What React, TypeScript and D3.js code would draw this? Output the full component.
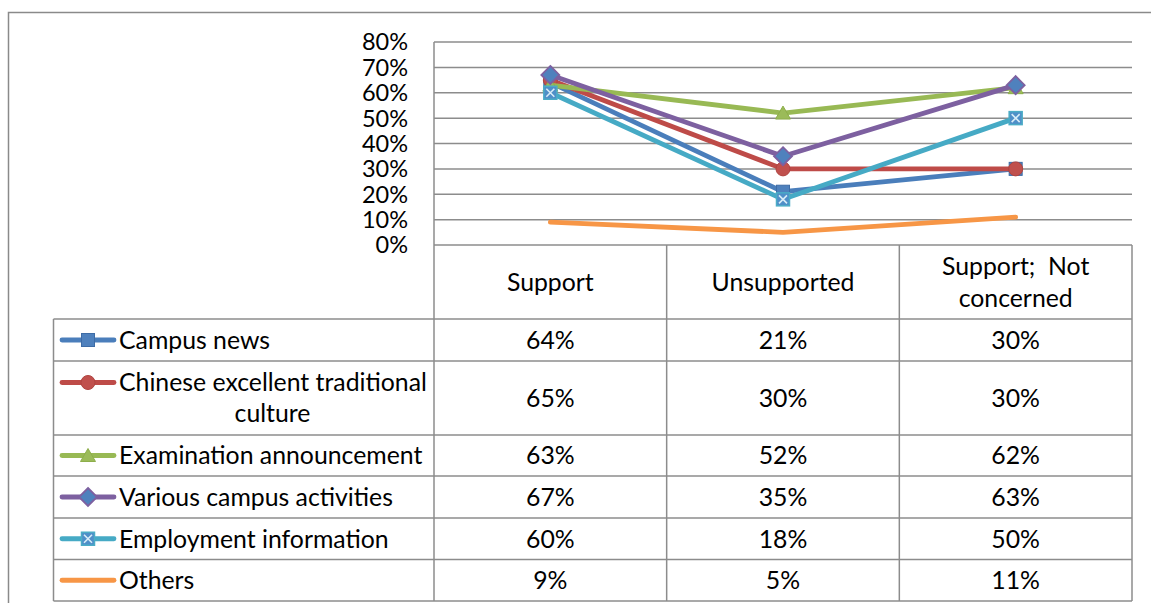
import React from "react";
import * as d3 from "d3";

const categories = ["Support", "Unsupported", "Support;  Not concerned"];
const categoryLines = [["Support"], ["Unsupported"], ["Support;\u00a0\u00a0Not", "concerned"]];
const seriesNames = [
  "Campus news",
  "Chinese excellent traditional culture",
  "Examination announcement",
  "Various campus activities",
  "Employment information",
  "Others",
];
const legendLines = [
  ["Campus news"],
  ["Chinese excellent traditional", "culture"],
  ["Examination announcement"],
  ["Various campus activities"],
  ["Employment information"],
  ["Others"],
];
const campusNews = [0.64, 0.21, 0.3];
const chineseCulture = [0.65, 0.3, 0.3];
const examAnnouncement = [0.63, 0.52, 0.62];
const campusActivities = [0.67, 0.35, 0.63];
const employmentInfo = [0.6, 0.18, 0.5];
const others = [0.09, 0.05, 0.11];
const seriesValues = [campusNews, chineseCulture, examAnnouncement, campusActivities, employmentInfo, others];
const yTicks = [0, 0.1, 0.2, 0.3, 0.4, 0.5, 0.6, 0.7, 0.8];

const lineColors = ["#4A7EBB", "#BE4B48", "#98B954", "#7D60A0", "#46AAC5", "#F79646"];
const markerTypes = ["square", "circle", "triangle", "diamond", "xsquare", "none"];

const FONT = "Lato, 'Open Sans', sans-serif";
const GRID = "#8c8c8c";

function Marker({ type, x, y }: { type: string; x: number; y: number }) {
  if (type === "square")
    return <rect x={x - 6.5} y={y - 6.5} width={13} height={13} fill="#4F81BD" stroke="#3E6CA6" strokeWidth={1} />;
  if (type === "circle") return <circle cx={x} cy={y} r={7} fill="#C0504D" stroke="#B04440" strokeWidth={1} />;
  if (type === "triangle")
    return (
      <path
        d={`M${x},${y - 7}L${x + 7.5},${y + 6}L${x - 7.5},${y + 6}Z`}
        fill="#9BBB59"
        stroke="#8DAE4A"
        strokeWidth={1}
      />
    );
  if (type === "diamond")
    return (
      <path
        d={`M${x},${y - 9}L${x + 9},${y}L${x},${y + 9}L${x - 9},${y}Z`}
        fill="#4F81BD"
        stroke="#7D60A0"
        strokeWidth={1.8}
      />
    );
  if (type === "xsquare")
    return (
      <g>
        <rect x={x - 6.5} y={y - 6.5} width={13} height={13} fill="#4F8FC8" stroke="#4BACC6" strokeWidth={1.5} />
        <path
          d={`M${x - 4},${y - 4}L${x + 4},${y + 4}M${x + 4},${y - 4}L${x - 4},${y + 4}`}
          stroke="#D8ECF7"
          strokeWidth={1.6}
        />
      </g>
    );
  return null;
}

export default function App() {
  const W = 1151;
  const H = 603;
  const plotLeft = 434;
  const plotRight = 1132;
  const plotTop = 42;
  const plotBottom = 245;
  const headerBottom = 319;
  const legendLeft = 53.5;
  const rowEdges = [319, 361, 435, 476, 518, 559.5, 601];

  const x = d3.scaleBand<string>().domain(categories).range([plotLeft, plotRight]).paddingInner(0).paddingOuter(0);
  const y = d3.scaleLinear().domain([0, 0.8]).range([plotBottom, plotTop]);
  const line = d3
    .line<number>()
    .x((_, i) => (x(categories[i]) as number) + x.bandwidth() / 2)
    .y((d) => y(d));

  const colEdges = categories.map((c) => x(c) as number).concat([plotRight]);
  const fs = 24.8;
  const tickFs = 23.5;
  const lw = 4.8;

  return (
    <svg
      width={W}
      height={H}
      style={{ position: "absolute", left: 0, top: 0, display: "block", background: "#fff" }}
      fontFamily={FONT}
    >
      {/* outer frame */}
      <path d={`M8.5,${H + 5}V12.5H${W + 5}`} fill="none" stroke="#8a8a8a" strokeWidth={1.5} />

      {/* gridlines */}
      {yTicks.map((t) => (
        <line key={t} x1={plotLeft} x2={plotRight} y1={y(t)} y2={y(t)} stroke={GRID} strokeWidth={1.5} />
      ))}
      {yTicks.map((t) => (
        <text key={"l" + t} x={408} y={y(t)} dy="0.36em" textAnchor="end" fontSize={tickFs} fill="#000">
          {d3.format(".0%")(t)}
        </text>
      ))}

      {/* table lines */}
      <line x1={plotLeft} x2={plotLeft} y1={plotTop} y2={rowEdges[rowEdges.length - 1]} stroke={GRID} strokeWidth={1.5} />
      {colEdges.slice(1).map((cx, i) => (
        <line key={"c" + i} x1={cx} x2={cx} y1={plotBottom} y2={rowEdges[rowEdges.length - 1]} stroke={GRID} strokeWidth={1.5} />
      ))}
      <line x1={legendLeft} x2={legendLeft} y1={headerBottom} y2={rowEdges[rowEdges.length - 1]} stroke={GRID} strokeWidth={1.5} />
      {rowEdges.map((ry, i) => (
        <line key={"r" + i} x1={legendLeft} x2={plotRight} y1={ry} y2={ry} stroke={GRID} strokeWidth={1.5} />
      ))}

      {/* header text */}
      {categoryLines.map((ls, ci) => {
        const cx = (x(categories[ci]) as number) + x.bandwidth() / 2;
        const cy = (plotBottom + headerBottom) / 2;
        const lh = 32;
        return ls.map((s, li) => (
          <text
            key={ci + "-" + li}
            x={cx}
            y={cy + (li - (ls.length - 1) / 2) * lh}
            dy="0.36em"
            textAnchor="middle"
            fontSize={fs}
            fill="#000"
          >
            {s}
          </text>
        ));
      })}

      {/* legend + values */}
      {seriesNames.map((name, si) => {
        const top = rowEdges[si];
        const bot = rowEdges[si + 1];
        const cy = (top + bot) / 2;
        const ls = legendLines[si];
        const lh = 31;
        const firstY = cy - ((ls.length - 1) / 2) * lh;
        return (
          <g key={name}>
            <line x1={62} x2={114} y1={firstY} y2={firstY} stroke={lineColors[si]} strokeWidth={lw} strokeLinecap="round" />
            <Marker type={markerTypes[si]} x={88} y={firstY} />
            {ls.map((s, li) => (
              <text
                key={li}
                x={li === 0 ? 119 : 272.5}
                y={firstY + li * lh}
                dy="0.36em"
                textAnchor={li === 0 ? "start" : "middle"}
                fontSize={fs}
                fill="#000"
              >
                {s}
              </text>
            ))}
            {seriesValues[si].map((v, ci) => (
              <text
                key={"v" + ci}
                x={(x(categories[ci]) as number) + x.bandwidth() / 2}
                y={cy}
                dy="0.36em"
                textAnchor="middle"
                fontSize={fs}
                fill="#000"
              >
                {d3.format(".0%")(v)}
              </text>
            ))}
          </g>
        );
      })}

      {/* series lines */}
      {seriesValues.map((vals, si) => (
        <g key={"s" + si}>
          <path d={line(vals) as string} fill="none" stroke={lineColors[si]} strokeWidth={lw} strokeLinejoin="round" strokeLinecap="round" />
          {vals.map((v, ci) => (
            <Marker key={ci} type={markerTypes[si]} x={(x(categories[ci]) as number) + x.bandwidth() / 2} y={y(v)} />
          ))}
        </g>
      ))}
    </svg>
  );
}
